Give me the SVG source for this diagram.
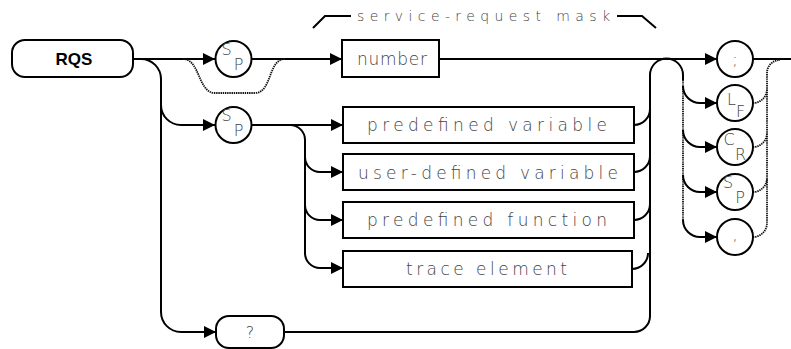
<svg xmlns="http://www.w3.org/2000/svg" width="791" height="349" viewBox="0 0 791 349">
<style>
.ln{fill:none;stroke:#000;stroke-width:2}
.dt{fill:none;stroke:#111;stroke-width:1.8;stroke-dasharray:1.4 0.8}
.bx{fill:#fff;stroke:#000;stroke-width:2}
.t{font-family:"DejaVu Sans","Liberation Sans",sans-serif;font-weight:200;fill:#444}
.bt{font-size:17px}
.ct{font-size:14px}
.cl{font-size:16px}
.rqs{font-family:"Liberation Sans",Arial,sans-serif;font-weight:bold;font-size:17px;fill:#000}
</style>
<defs>
<marker id="ar" markerUnits="userSpaceOnUse" markerWidth="13" markerHeight="12" refX="12" refY="6" orient="auto" viewBox="0 0 13 12">
<path d="M0,0 L12,6 L0,12 z" fill="#000"/>
</marker>
</defs>
<g id="connectors">
<path class="ln" d="M133 59 L215 59" marker-end="url(#ar)"/>
<path class="ln" d="M252 59 L342 59" marker-end="url(#ar)"/>
<path class="ln" d="M439 59 L717 59" marker-end="url(#ar)"/>
<path class="ln" d="M753 59 L791 59"/>
<path class="dt" d="M183 59 C200 59 198 93 215 93 L255 93 C272 93 268 59 285 59"/>
<path class="ln" d="M141 59 A20 20 0 0 1 161 79 L161 312 A20 20 0 0 0 181 332 L216 332" marker-end="url(#ar)"/>
<path class="ln" d="M161 105 A20 20 0 0 0 181 125 L215 125" marker-end="url(#ar)"/>
<path class="ln" d="M252 125 L343 125" marker-end="url(#ar)"/>
<path class="ln" d="M290 125 A15 15 0 0 1 305 140 L305 253 A15 15 0 0 0 320 268 L343 268" marker-end="url(#ar)"/>
<path class="ln" d="M305 157 A15 15 0 0 0 320 172 L343 172" marker-end="url(#ar)"/>
<path class="ln" d="M305 205 A15 15 0 0 0 320 220 L343 220" marker-end="url(#ar)"/>
<path class="ln" d="M634 125 A16 16 0 0 0 650 109"/>
<path class="ln" d="M634 172 A16 16 0 0 0 650 156"/>
<path class="ln" d="M634 220 A16 16 0 0 0 650 204"/>
<path class="ln" d="M632 269 A16 16 0 0 0 648 253"/>
<path class="ln" d="M284 332 L634 332 A16 16 0 0 0 650 316 L650 75 A16.5 16.5 0 0 1 683 75 L683 80"/>
<path class="dt" d="M683 80 L683 220"/>
<path class="ln" d="M683 86 A17 17 0 0 0 700 103 L717 103" marker-end="url(#ar)"/>
<path class="ln" d="M683 130 A17 17 0 0 0 700 147 L717 147" marker-end="url(#ar)"/>
<path class="ln" d="M683 175 A17 17 0 0 0 700 192 L717 192" marker-end="url(#ar)"/>
<path class="ln" d="M683 220 A17 17 0 0 0 700 237 L717 237" marker-end="url(#ar)"/>
<path class="dt" d="M753 103 A14 14 0 0 0 767 89"/>
<path class="dt" d="M753 147 A14 14 0 0 0 767 133"/>
<path class="dt" d="M753 192 A14 14 0 0 0 767 178"/>
<path class="dt" d="M753 237 A14 14 0 0 0 767 223 L767 73 A13 13 0 0 1 780 60"/>
<path class="ln" d="M313 28 L325 16 L351 16"/>
<path class="ln" d="M617 16 L642 16 L656 28"/>
</g>
<text class="t ct" x="357" y="21" textLength="253" lengthAdjust="spacing">service-request mask</text>
<g id="rqs">
<rect class="bx" x="12" y="40" width="121" height="37" rx="13" ry="13"/>
<text class="rqs" x="74" y="65" text-anchor="middle">RQS</text>
</g>
<g id="sp1">
<circle class="bx" cx="233.5" cy="59" r="18"/>
<text class="t cl" x="226.5" y="55" text-anchor="middle">S</text>
<text class="t cl" x="238.5" y="70" text-anchor="middle">P</text>
</g>
<g id="number">
<rect class="bx" x="342" y="40" width="97" height="37"/>
<text class="t bt" x="357" y="65" textLength="70" lengthAdjust="spacing">number</text>
</g>
<g id="sp2">
<circle class="bx" cx="233.5" cy="125" r="18"/>
<text class="t cl" x="226.5" y="121" text-anchor="middle">S</text>
<text class="t cl" x="238.5" y="136" text-anchor="middle">P</text>
</g>
<g id="predefvar">
<rect class="bx" x="343" y="107" width="291" height="36"/>
<text class="t bt" x="367" y="131" textLength="240" lengthAdjust="spacing">predefined variable</text>
</g>
<g id="userdefvar">
<rect class="bx" x="343" y="154" width="291" height="36"/>
<text class="t bt" x="358" y="179" textLength="260" lengthAdjust="spacing">user-defined variable</text>
</g>
<g id="predeffunc">
<rect class="bx" x="343" y="202" width="291" height="36"/>
<text class="t bt" x="367" y="226" textLength="240" lengthAdjust="spacing">predefined function</text>
</g>
<g id="trace">
<rect class="bx" x="343" y="251" width="289" height="36"/>
<text class="t bt" x="406" y="275" textLength="161" lengthAdjust="spacing">trace element</text>
</g>
<g id="query">
<rect class="bx" x="216" y="316" width="68" height="32" rx="13" ry="13"/>
<text class="t cl" x="250" y="338" text-anchor="middle">?</text>
</g>
<g id="semi">
<circle class="bx" cx="735" cy="59" r="18"/>
<text class="t cl" x="735" y="65" text-anchor="middle">;</text>
</g>
<g id="lf">
<circle class="bx" cx="735" cy="103" r="18"/>
<text class="t cl" x="731.5" y="105" text-anchor="middle">L</text>
<text class="t cl" x="740.5" y="117" text-anchor="middle">F</text>
</g>
<g id="cr">
<circle class="bx" cx="735" cy="147" r="18"/>
<text class="t cl" x="729" y="145" text-anchor="middle">C</text>
<text class="t cl" x="740.5" y="160" text-anchor="middle">R</text>
</g>
<g id="sp3">
<circle class="bx" cx="735" cy="192" r="18"/>
<text class="t cl" x="728" y="188" text-anchor="middle">S</text>
<text class="t cl" x="740" y="203" text-anchor="middle">P</text>
</g>
<g id="comma">
<circle class="bx" cx="735" cy="237" r="18"/>
<text class="t cl" x="735" y="240" text-anchor="middle">,</text>
</g>
</svg>
